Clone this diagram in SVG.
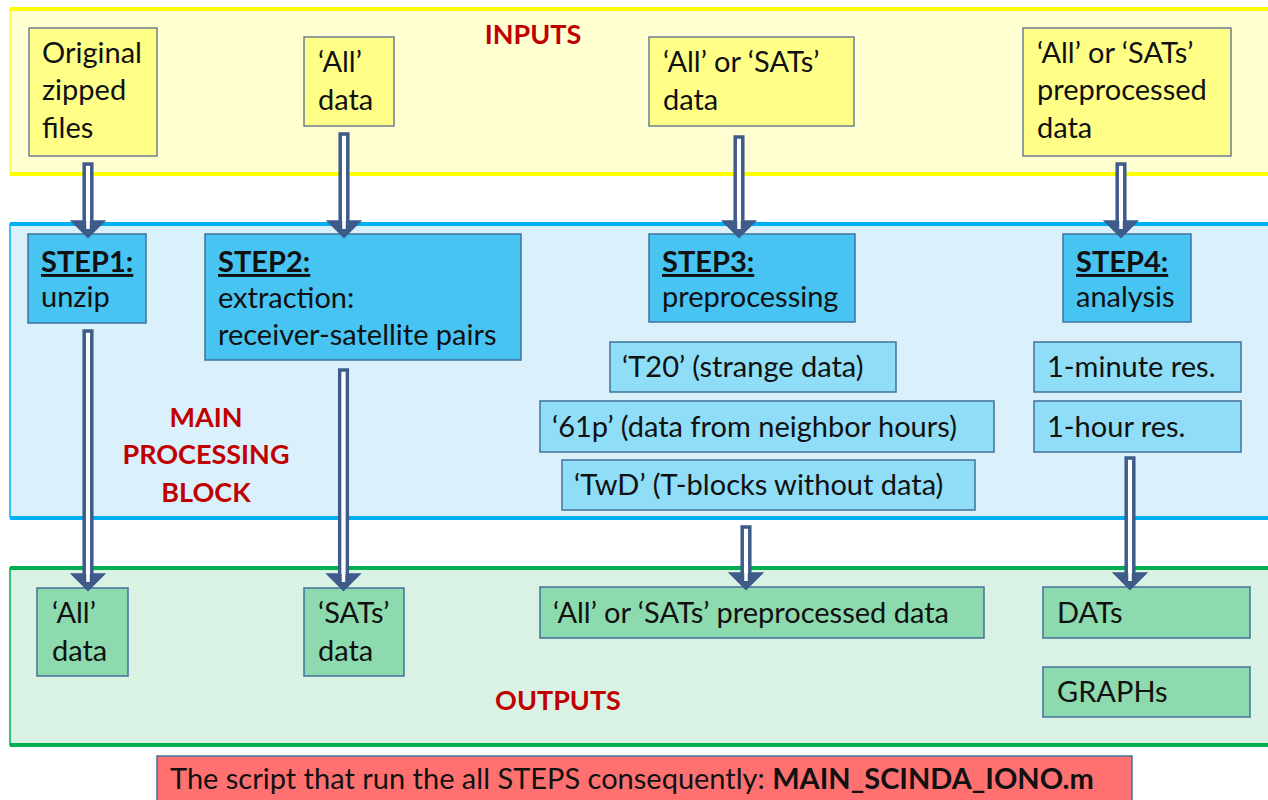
<svg xmlns="http://www.w3.org/2000/svg" width="1268" height="800" viewBox="0 0 1268 800">
<style>
text{font-family:Lato,"Open Sans","Liberation Sans",sans-serif;font-size:29px;fill:#111}
.red{fill:#C00000;font-weight:bold;font-size:27px}
.in{fill:#FFFF88;stroke:#6E7F90;stroke-width:1.5}
.step{fill:#47C4F2;stroke:#41719C;stroke-width:1.5}
.sub{fill:#8FDDF6;stroke:#41719C;stroke-width:1.5}
.out{fill:#8DDAAE;stroke:#41719C;stroke-width:1.5}
.hd{font-weight:bold;text-decoration:underline}
.arr{fill:#fff;stroke:#3E5B8A;stroke-width:3.5;stroke-linejoin:miter}
.head{fill:#3E5B8A}
.slit{stroke:#fff;stroke-width:3.5}
</style>
<rect width="1268" height="800" fill="#fff"/>
<g id="band-inputs">
<rect x="10" y="9" width="1270" height="164" fill="#FFFFD2" stroke="#FFFF33" stroke-width="1.5"/>
<line x1="10" y1="9" x2="1268" y2="9" stroke="#FFFF00" stroke-width="4"/>
<line x1="10" y1="174" x2="1268" y2="174" stroke="#FFFF00" stroke-width="4"/>
<text class="red" x="533" y="44" text-anchor="middle">INPUTS</text>
</g>
<g id="band-main">
<rect x="10" y="224" width="1270" height="293" fill="#DAF0FA" stroke="#00B0F0" stroke-width="1.5"/>
<line x1="10" y1="224" x2="1268" y2="224" stroke="#00B0F0" stroke-width="4"/>
<line x1="10" y1="518" x2="1268" y2="518" stroke="#00B0F0" stroke-width="4"/>
<text class="red" x="206" y="427" text-anchor="middle">MAIN</text>
<text class="red" x="206" y="464" text-anchor="middle">PROCESSING</text>
<text class="red" x="206" y="502" text-anchor="middle">BLOCK</text>
</g>
<g id="band-outputs">
<rect x="10" y="568" width="1270" height="177" fill="#DAF2E3" stroke="#00B050" stroke-width="1.5"/>
<line x1="10" y1="568" x2="1268" y2="568" stroke="#00B050" stroke-width="4"/>
<line x1="10" y1="745" x2="1268" y2="745" stroke="#00B050" stroke-width="4"/>
<text class="red" x="558" y="710" text-anchor="middle">OUTPUTS</text>
</g>
<g id="in1"><rect class="in" x="29" y="28" width="128" height="128"/>
<text x="42" y="63">Original</text><text x="42" y="100">zipped</text><text x="42" y="138">files</text></g>
<g id="in2"><rect class="in" x="304" y="37" width="90" height="89"/>
<text x="318" y="72">‘All’</text><text x="318" y="110">data</text></g>
<g id="in3"><rect class="in" x="649" y="37" width="205" height="89"/>
<text x="663" y="72">‘All’ or ‘SATs’</text><text x="663" y="110">data</text></g>
<g id="in4"><rect class="in" x="1023" y="28" width="208" height="128"/>
<text x="1037" y="63">‘All’ or ‘SATs’</text><text x="1037" y="100">preprocessed</text><text x="1037" y="138">data</text></g>
<g id="step1"><rect class="step" x="28" y="234" width="118" height="89"/>
<text class="hd" x="41" y="272">STEP1:</text><text x="41" y="307">unzip</text></g>
<g id="step2"><rect class="step" x="205" y="234" width="316" height="126"/>
<text class="hd" x="218" y="272">STEP2:</text><text x="218" y="308">extraction:</text><text x="218" y="345">receiver-satellite pairs</text></g>
<g id="step3"><rect class="step" x="649" y="234" width="206" height="88"/>
<text class="hd" x="662" y="272">STEP3:</text><text x="662" y="307">preprocessing</text></g>
<g id="step4"><rect class="step" x="1063" y="234" width="128" height="88"/>
<text class="hd" x="1076" y="272">STEP4:</text><text x="1076" y="307">analysis</text></g>
<g id="t20"><rect class="sub" x="610" y="342" width="286" height="50"/><text x="622" y="377">‘T20’ (strange data)</text></g>
<g id="p61"><rect class="sub" x="540" y="401" width="454" height="51"/><text x="552" y="437">‘61p’ (data from neighbor hours)</text></g>
<g id="twd"><rect class="sub" x="562" y="460" width="413" height="50"/><text x="574" y="495">‘TwD’ (T-blocks without data)</text></g>
<g id="res1m"><rect class="sub" x="1034" y="342" width="207" height="50"/><text x="1047" y="377">1-minute res.</text></g>
<g id="res1h"><rect class="sub" x="1034" y="401" width="207" height="51"/><text x="1047" y="437">1-hour res.</text></g>
<g id="out1"><rect class="out" x="37" y="588" width="91" height="88"/>
<text x="52" y="623">‘All’</text><text x="52" y="661">data</text></g>
<g id="out2"><rect class="out" x="304" y="588" width="100" height="88"/>
<text x="318" y="623">‘SATs’</text><text x="318" y="661">data</text></g>
<g id="out3"><rect class="out" x="540" y="587" width="444" height="51"/><text x="553" y="623">‘All’ or ‘SATs’ preprocessed data</text></g>
<g id="dats"><rect class="out" x="1043" y="587" width="207" height="51"/><text x="1057" y="623">DATs</text></g>
<g id="graphs"><rect class="out" x="1043" y="667" width="207" height="50"/><text x="1057" y="702">GRAPHs</text></g>
<g id="script"><rect x="157" y="756" width="975" height="50" fill="#FF7171" stroke="#41719C" stroke-width="1.5"/>
<text x="170" y="789" font-size="25">The script that run the all STEPS consequently: <tspan font-weight="bold">MAIN_SCINDA_IONO.m</tspan></text></g>
<g id="connectors">
<g><polygon class="arr" points="84.2,164 91.8,164 91.8,222 102,222 88,236 74,222 84.2,222"/><polygon class="head" points="72,221 104,221 88,237"/><line class="slit" x1="88" y1="166" x2="88" y2="229"/></g>
<g><polygon class="arr" points="340.2,134 347.8,134 347.8,222 358,222 344,236 330,222 340.2,222"/><polygon class="head" points="328,221 360,221 344,237"/><line class="slit" x1="344" y1="136" x2="344" y2="229"/></g>
<g><polygon class="arr" points="735.2,137 742.8,137 742.8,222 753,222 739,236 725,222 735.2,222"/><polygon class="head" points="723,221 755,221 739,237"/><line class="slit" x1="739" y1="139" x2="739" y2="229"/></g>
<g><polygon class="arr" points="1117.2,164 1124.8,164 1124.8,222 1135,222 1121,236 1107,222 1117.2,222"/><polygon class="head" points="1105,221 1137,221 1121,237"/><line class="slit" x1="1121" y1="166" x2="1121" y2="229"/></g>
<g><polygon class="arr" points="84.2,331 91.8,331 91.8,575 102,575 88,589 74,575 84.2,575"/><polygon class="head" points="72,574 104,574 88,590"/><line class="slit" x1="88" y1="333" x2="88" y2="582"/></g>
<g><polygon class="arr" points="339.7,370 347.3,370 347.3,575 357.5,575 343.5,589 329.5,575 339.7,575"/><polygon class="head" points="327.5,574 359.5,574 343.5,590"/><line class="slit" x1="343.5" y1="372" x2="343.5" y2="582"/></g>
<g><polygon class="arr" points="742.2,527 749.8,527 749.8,574 760,574 746,588 732,574 742.2,574"/><polygon class="head" points="730,573 762,573 746,589"/><line class="slit" x1="746" y1="529" x2="746" y2="581"/></g>
<g><polygon class="arr" points="1126.2,458 1133.8,458 1133.8,574 1144,574 1130,588 1116,574 1126.2,574"/><polygon class="head" points="1114,573 1146,573 1130,589"/><line class="slit" x1="1130" y1="460" x2="1130" y2="581"/></g>
</g>
</svg>
